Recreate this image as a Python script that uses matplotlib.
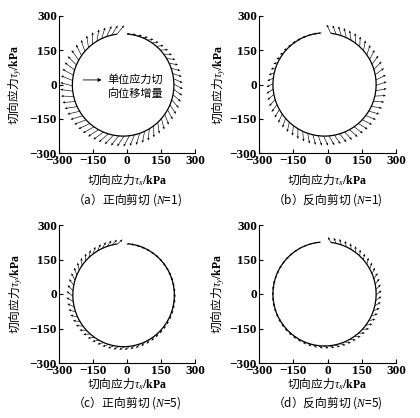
import numpy as np
import matplotlib
matplotlib.use("Agg")
import matplotlib.pyplot as plt
from matplotlib.patches import Arc

plt.rcParams['font.family'] = ['Liberation Serif', 'Noto Sans CJK SC', 'DejaVu Sans']
plt.rcParams['mathtext.fontset'] = 'custom'
plt.rcParams['mathtext.rm'] = 'Liberation Serif'
plt.rcParams['mathtext.it'] = 'Liberation Serif:italic'
plt.rcParams['mathtext.bf'] = 'Liberation Serif:bold'
plt.rcParams['mathtext.fallback'] = 'stix'
CJK = 'Noto Sans CJK SC'

# ---------------- data ----------------
ticks = [-300, -150, 0, 150, 300]
captions = ['（a）正向剪切 ($N$=1)', '（b）反向剪切 ($N$=1)',
            '（c）正向剪切 ($N$=5)', '（d）反向剪切 ($N$=5)']
xlabel = '切向应力$\\tau_x\\mathbf{/kPa}$'
ylabel = '切向应力$\\tau_y\\mathbf{/kPa}$'
note_lines = ['单位应力切', '向位移增量']

# stress path circles: centre x, centre y, radius, start angle (deg), end angle (deg)
path_a = dict(cx=-17, cy=-2, r=224, start=85, end=97 - 360)   # clockwise
path_b = dict(cx=-13, cy=0, r=226, start=95, end=83 + 360)    # counter-clockwise
path_c = dict(cx=-15, cy=-5, r=224, start=85, end=97 - 360)
path_d = dict(cx=-13, cy=0, r=226, start=95, end=83 + 360)

# incremental displacement vectors (length in kPa units, deviation from radial in deg)
len_a = [10, 14, 18, 22, 26, 29, 32, 35, 37, 39,
         40, 42, 43, 44, 45, 46, 46, 47, 48, 48,
         49, 50, 50, 51, 52, 52, 53, 53, 54, 54,
         54, 55, 55, 55, 55, 56, 56, 56, 56, 56,
         56, 56, 56, 56, 55, 55, 55, 55, 54, 54,
         54, 53, 53, 52, 52, 51, 51, 50, 50]
dev_a = [75, 68, 62, 56, 50, 45, 42, 40, 38, 36,
         34, 33, 32, 31, 30, 30, 30, 31, 32, 33,
         34, 35, 35, 36, 36, 36, 36, 36, 35, 35,
         34, 33, 32, 30, 28, 26, 24, 22, 20, 18,
         16, 15, 15, 15, 16, 17, 18, 20, 22, 25,
         28, 31, 34, 37, 40, 42, 44, 45, 46]

len_b = [6, 7, 8, 9, 10, 11, 12, 14, 16, 18,
         20, 23, 26, 29, 32, 35, 37, 39, 40, 41,
         42, 43, 44, 44, 45, 45, 46, 46, 46, 46,
         47, 47, 47, 47, 48, 48, 48, 48, 48, 48,
         48, 48, 49, 49, 49, 49, 48, 48, 47, 47,
         46, 46, 45, 45, 44, 44, 43, 42, 42]
dev_b = [80, 78, 75, 72, 68, 64, 60, 55, 50, 45,
         40, 36, 33, 31, 30, 30, 30, 30, 30, 30,
         30, 30, 30, 30, 30, 30, 29, 28, 27, 26,
         25, 24, 22, 20, 19, 18, 17, 16, 15, 15,
         15, 15, 16, 18, 20, 22, 25, 28, 31, 34,
         36, 38, 40, 40, 40, 38, 36, 34, 32]

len_c = [6, 6, 7, 7, 8, 8, 9, 9, 10, 10,
         11, 11, 12, 13, 14, 15, 16, 17, 18, 19,
         20, 21, 22, 23, 24, 25, 26, 26, 27, 27,
         28, 28, 29, 29, 30, 30, 31, 31, 32, 32,
         33, 33, 33, 34, 34, 34, 34, 34, 34, 34,
         34, 34, 33, 33, 33, 32, 32, 31, 30]
dev_c = [85, 85, 84, 84, 83, 83, 82, 82, 81, 80,
         79, 78, 77, 76, 75, 74, 73, 72, 71, 70,
         69, 68, 67, 66, 65, 64, 63, 62, 61, 60,
         58, 56, 54, 52, 50, 48, 46, 44, 42, 40,
         38, 36, 36, 36, 38, 40, 42, 44, 46, 48,
         50, 52, 54, 55, 56, 56, 56, 56, 56]

len_d = [4, 4, 5, 5, 5, 6, 6, 6, 7, 7,
         8, 8, 9, 9, 10, 10, 11, 12, 13, 14,
         15, 16, 17, 18, 19, 20, 21, 22, 23, 24,
         25, 26, 27, 28, 28, 29, 29, 30, 30, 30,
         30, 30, 30, 30, 30, 30, 30, 30, 29, 29,
         29, 28, 28, 28, 27, 27, 27, 26, 26]
dev_d = [85, 85, 85, 85, 84, 84, 83, 83, 82, 82,
         81, 80, 80, 79, 78, 78, 77, 76, 76, 75,
         74, 73, 72, 71, 70, 69, 68, 67, 66, 65,
         63, 61, 59, 57, 55, 53, 51, 49, 47, 45,
         44, 43, 42, 41, 40, 40, 40, 40, 40, 40,
         40, 39, 38, 38, 37, 37, 36, 36, 35]

panels = [(path_a, len_a, dev_a, -1), (path_b, len_b, dev_b, +1),
          (path_c, len_c, dev_c, -1), (path_d, len_d, dev_d, +1)]

# ---------------- figure ----------------
fig = plt.figure(figsize=(4.2, 4.18), dpi=100)
W, H = 420, 418
boxes = [(59, 16, 195, 153), (259, 16, 396, 153),
         (59, 225, 195, 363), (259, 225, 396, 363)]
xlab_off = [27, 27, 21, 21]
cap_off = [47, 47, 40, 40]
ylab_x = [15, 219, 16, 218]

for i, ((p, lens, devs, sgn), (x0, y0, x1, y1)) in enumerate(zip(panels, boxes)):
    ax = fig.add_axes([x0 / W, 1 - y1 / H, (x1 - x0) / W, (y1 - y0) / H])
    ax.set_xlim(-300, 300)
    ax.set_ylim(-300, 300)
    for s in ['top', 'right']:
        ax.spines[s].set_visible(False)
    for s in ['left', 'bottom']:
        ax.spines[s].set_linewidth(0.8)
    ax.set_xticks(ticks)
    ax.set_yticks(ticks)
    ax.set_xticklabels([str(t).replace('-', '−') for t in ticks])
    ax.set_yticklabels([str(t).replace('-', '−') for t in ticks])
    ax.tick_params(direction='in', length=3, width=0.8, labelsize=9.5, pad=1.5)
    for lab in ax.get_xticklabels() + ax.get_yticklabels():
        lab.set_fontweight('bold')

    # path
    if sgn < 0:
        t1, t2 = p['end'], p['start']
    else:
        t1, t2 = p['start'], p['end']
    ax.add_patch(Arc((p['cx'], p['cy']), 2 * p['r'], 2 * p['r'],
                     theta1=t1, theta2=t2, color='black', lw=0.9))

    # vectors
    n = len(lens)
    th = np.deg2rad(np.linspace(p['start'], p['end'], n))
    X = p['cx'] + p['r'] * np.cos(th)
    Y = p['cy'] + p['r'] * np.sin(th)
    direc = th + sgn * np.deg2rad(np.array(devs))
    L = np.array(lens, dtype=float)
    U = L * np.cos(direc)
    V = L * np.sin(direc)
    ax.quiver(X, Y, U, V, angles='xy', scale_units='xy', scale=1,
              width=0.0045, headwidth=4, headlength=4.5, headaxislength=4,
              minshaft=0.5, minlength=0.2, color='black')

    ax.set_xlabel(xlabel, fontsize=8.5, va='center', family=CJK)
    ax.xaxis.set_label_coords(0.5, -xlab_off[i] / (y1 - y0))
    ax.set_ylabel(ylabel, fontsize=8.5, va='center', family=CJK)
    ax.yaxis.set_label_coords((ylab_x[i] - x0) / (x1 - x0), 0.5)
    ax.text(0.5, -cap_off[i] / (y1 - y0), captions[i], transform=ax.transAxes,
            ha='center', va='center', fontsize=8.5, family=CJK)

    if i == 0:
        ax.annotate('', xy=(-112, 20), xytext=(-193, 20),
                    arrowprops=dict(arrowstyle='-|>', lw=0.6, color='black',
                                    mutation_scale=5, shrinkA=0, shrinkB=0))
        ax.text(-86, 20, note_lines[0], ha='left', va='center', fontsize=8, family=CJK)
        ax.text(-86, -38, note_lines[1], ha='left', va='center', fontsize=8, family=CJK)

fig.savefig('out.png', dpi=100)
